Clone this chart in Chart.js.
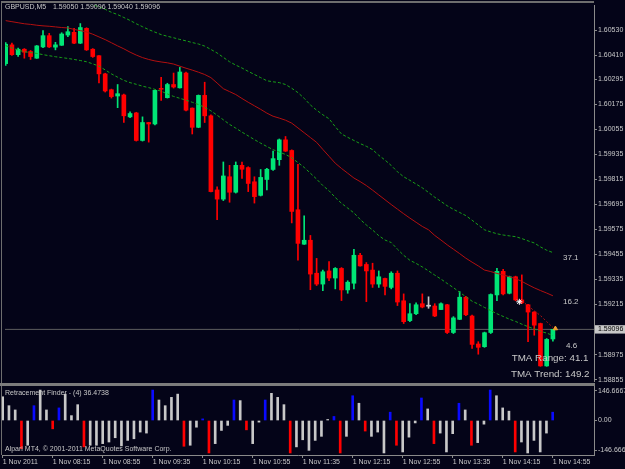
<!DOCTYPE html>
<html>
<head>
<meta charset="utf-8">
<script src="https://cdn.jsdelivr.net/npm/chart.js@4.4.0/dist/chart.umd.min.js"></script>
<style>
  html, body { margin: 0; padding: 0; background: #040418; }
  #wrap { position: relative; width: 625px; height: 469px; background: #040418; overflow: hidden; }
  #main { position: absolute; left: 0; top: 0; }
  #sub { position: absolute; left: 0; top: 386px; }
  #sep { position: absolute; left: 0; top: 383px; width: 595px; height: 3px; background: #7c7c7c; }
</style>
</head>
<body>
<div id="wrap">
  <canvas id="main" width="625" height="386"></canvas>
  <div id="sep"></div>
  <canvas id="sub" width="625" height="83"></canvas>
</div>
<script>
// ==================== DATA (GBPUSD M5, 1 Nov 2011, 07:35 -> 14:55) ====================

const opens = [1.60369, 1.60459, 1.60412, 1.60438, 1.60427, 1.60395, 1.60449, 1.60503, 1.60448, 1.60457,
  1.60506, 1.60519, 1.60467, 1.60538, 1.60438, 1.60407, 1.60320, 1.60244, 1.60214, 1.60219,
  1.60114, 1.60133, 1.60001, 1.60087, 1.60080, 1.60248, 1.60206, 1.60269, 1.60253, 1.60324,
  1.60156, 1.60064, 1.60217, 1.60119, 1.59764, 1.59720, 1.59827, 1.59753, 1.59882, 1.59871,
  1.59803, 1.59738, 1.59814, 1.59862, 1.59909, 1.60004, 1.59953, 1.59669, 1.59504, 1.59523,
  1.59365, 1.59313, 1.59376, 1.59342, 1.59388, 1.59285, 1.59317, 1.59451, 1.59407, 1.59380,
  1.59313, 1.59340, 1.59297, 1.59365, 1.59233, 1.59138, 1.59171, 1.59219, 1.59207, 1.59208,
  1.59191, 1.59214, 1.59081, 1.59144, 1.59250, 1.59160, 1.59026, 1.59013, 1.59081, 1.59261,
  1.59374, 1.59269, 1.59348, 1.59237, 1.59214, 1.59179, 1.59124, 1.58921, 1.59050];

const highs = [1.60470, 1.60467, 1.60443, 1.60441, 1.60432, 1.60456, 1.60527, 1.60514, 1.60471, 1.60517,
  1.60546, 1.60538, 1.60561, 1.60541, 1.60441, 1.60408, 1.60323, 1.60247, 1.60269, 1.60223,
  1.60138, 1.60136, 1.60114, 1.60088, 1.60242, 1.60304, 1.60275, 1.60324, 1.60351, 1.60328,
  1.60157, 1.60219, 1.60280, 1.60124, 1.59779, 1.59898, 1.59882, 1.59898, 1.59898, 1.59875,
  1.59827, 1.59862, 1.59868, 1.59950, 1.60008, 1.60020, 1.59956, 1.59887, 1.59640, 1.59546,
  1.59436, 1.59380, 1.59421, 1.59392, 1.59392, 1.59329, 1.59479, 1.59460, 1.59416, 1.59413,
  1.59376, 1.59342, 1.59372, 1.59376, 1.59266, 1.59219, 1.59223, 1.59266, 1.59252, 1.59219,
  1.59223, 1.59216, 1.59157, 1.59277, 1.59254, 1.59164, 1.59037, 1.59083, 1.59266, 1.59388,
  1.59384, 1.59351, 1.59351, 1.59357, 1.59216, 1.59181, 1.59126, 1.59052, 1.59096];

const lows = [1.60361, 1.60408, 1.60403, 1.60395, 1.60389, 1.60394, 1.60446, 1.60446, 1.60435, 1.60456,
  1.60498, 1.60465, 1.60465, 1.60432, 1.60399, 1.60277, 1.60233, 1.60204, 1.60158, 1.60087,
  1.60110, 1.59998, 1.59998, 1.59993, 1.60076, 1.60193, 1.60204, 1.60252, 1.60252, 1.60143,
  1.60032, 1.60062, 1.60087, 1.59754, 1.59621, 1.59713, 1.59705, 1.59749, 1.59819, 1.59756,
  1.59701, 1.59735, 1.59764, 1.59858, 1.59882, 1.59948, 1.59606, 1.59428, 1.59503, 1.59286,
  1.59306, 1.59282, 1.59329, 1.59290, 1.59234, 1.59269, 1.59290, 1.59399, 1.59229, 1.59297,
  1.59297, 1.59261, 1.59290, 1.59210, 1.59124, 1.59133, 1.59166, 1.59199, 1.59197, 1.59157,
  1.59190, 1.59076, 1.59076, 1.59143, 1.59162, 1.59005, 1.58977, 1.59010, 1.59076, 1.59234,
  1.59261, 1.59266, 1.59233, 1.59219, 1.59037, 1.59068, 1.58919, 1.58919, 1.59040];

const closes = [1.60462, 1.60412, 1.60438, 1.60424, 1.60403, 1.60454, 1.60503, 1.60449, 1.60459, 1.60511,
  1.60522, 1.60467, 1.60542, 1.60435, 1.60403, 1.60320, 1.60238, 1.60211, 1.60225, 1.60119,
  1.60130, 1.60001, 1.60087, 1.60080, 1.60241, 1.60246, 1.60269, 1.60257, 1.60329, 1.60146,
  1.60064, 1.60217, 1.60119, 1.59756, 1.59720, 1.59831, 1.59753, 1.59882, 1.59863, 1.59795,
  1.59732, 1.59824, 1.59863, 1.59914, 1.60004, 1.59950, 1.59661, 1.59508, 1.59523, 1.59361,
  1.59313, 1.59372, 1.59342, 1.59388, 1.59285, 1.59322, 1.59451, 1.59400, 1.59376, 1.59313,
  1.59348, 1.59302, 1.59365, 1.59227, 1.59133, 1.59171, 1.59214, 1.59203, 1.59207, 1.59160,
  1.59219, 1.59081, 1.59151, 1.59250, 1.59166, 1.59024, 1.59010, 1.59080, 1.59263, 1.59374,
  1.59266, 1.59348, 1.59237, 1.59223, 1.59179, 1.59116, 1.58921, 1.59048, 1.59096];

// TMA centre line and bands
const tmaMid = [1.60575, 1.60570, 1.60565, 1.60560, 1.60557, 1.60553, 1.60550, 1.60548, 1.60545, 1.60542,
  1.60540, 1.60533, 1.60527, 1.60521, 1.60510, 1.60497, 1.60484, 1.60469, 1.60454, 1.60440,
  1.60424, 1.60410, 1.60398, 1.60389, 1.60382, 1.60377, 1.60373, 1.60367, 1.60357, 1.60347,
  1.60338, 1.60328, 1.60317, 1.60302, 1.60276, 1.60249, 1.60235, 1.60221, 1.60202, 1.60184,
  1.60167, 1.60150, 1.60132, 1.60117, 1.60108, 1.60098, 1.60084, 1.60061, 1.60038, 1.60015,
  1.59992, 1.59958, 1.59925, 1.59892, 1.59867, 1.59844, 1.59821, 1.59804, 1.59785, 1.59763,
  1.59740, 1.59717, 1.59694, 1.59672, 1.59650, 1.59629, 1.59609, 1.59589, 1.59573, 1.59546,
  1.59524, 1.59501, 1.59480, 1.59459, 1.59437, 1.59418, 1.59400, 1.59380, 1.59373, 1.59364,
  1.59357, 1.59348, 1.59339, 1.59326, 1.59310, 1.59295, 1.59282, 1.59270, 1.59257];

const tmaUpper = [1.60702, 1.60700, 1.60695, 1.60690, 1.60686, 1.60681, 1.60677, 1.60674, 1.60670, 1.60667,
  1.60664, 1.60662, 1.60659, 1.60656, 1.60651, 1.60641, 1.60629, 1.60615, 1.60604, 1.60590,
  1.60576, 1.60560, 1.60546, 1.60532, 1.60520, 1.60508, 1.60500, 1.60493, 1.60485, 1.60478,
  1.60470, 1.60463, 1.60453, 1.60437, 1.60420, 1.60399, 1.60378, 1.60362, 1.60348, 1.60332,
  1.60317, 1.60302, 1.60287, 1.60282, 1.60278, 1.60269, 1.60251, 1.60230, 1.60203, 1.60171,
  1.60146, 1.60124, 1.60105, 1.60067, 1.60032, 1.60016, 1.60001, 1.59986, 1.59973, 1.59957,
  1.59930, 1.59907, 1.59881, 1.59851, 1.59827, 1.59810, 1.59792, 1.59774, 1.59752, 1.59729,
  1.59709, 1.59688, 1.59671, 1.59656, 1.59641, 1.59619, 1.59596, 1.59573, 1.59563, 1.59554,
  1.59548, 1.59544, 1.59540, 1.59531, 1.59520, 1.59510, 1.59491, 1.59475, 1.59464];

const tmaLower = [1.60455, 1.60444, 1.60434, 1.60426, 1.60422, 1.60418, 1.60412, 1.60407, 1.60402, 1.60398,
  1.60394, 1.60389, 1.60384, 1.60378, 1.60368, 1.60357, 1.60339, 1.60320, 1.60304, 1.60289,
  1.60278, 1.60270, 1.60261, 1.60254, 1.60246, 1.60237, 1.60224, 1.60212, 1.60203, 1.60194,
  1.60184, 1.60173, 1.60160, 1.60143, 1.60122, 1.60100, 1.60078, 1.60060, 1.60041, 1.60023,
  1.60005, 1.59988, 1.59972, 1.59957, 1.59945, 1.59934, 1.59918, 1.59895, 1.59872, 1.59844,
  1.59816, 1.59785, 1.59760, 1.59728, 1.59700, 1.59677, 1.59654, 1.59623, 1.59596, 1.59572,
  1.59545, 1.59524, 1.59512, 1.59480, 1.59451, 1.59427, 1.59412, 1.59395, 1.59376, 1.59356,
  1.59337, 1.59316, 1.59296, 1.59274, 1.59252, 1.59231, 1.59217, 1.59201, 1.59186, 1.59171,
  1.59158, 1.59145, 1.59134, 1.59121, 1.59109, 1.59098, 1.59087, 1.59078, 1.59067];

// last bars of the centre line (dotted, still repainting)
const tailStart = 83;
const tailValues = [1.59233, 1.59209, 1.59185, 1.59162, 1.59133, 1.59105];

// small chart objects (cursor star, price arrow)
const markerBars = [82.6, 88.4];
const markerPrices = [1.59228, 1.59100];

// Retracement Finder histogram: value and colour code (w = plain, b = blue, r = red)
const rfValues = [117, 73, 52, -139, -122, 73, 150, 52, -41, 62,
  130, 24, 78, -130, -122, -122, -114, -106, -85, -125,
  -98, -90, -57, -62, 150, 101, 73, 114, 130, -127,
  -122, -33, 8, -160, -114, -49, -24, 101, 98, -46,
  -114, -8, 101, 134, 114, 78, -160, -130, -95, -147,
  -98, -78, 5, 20, -160, -78, 122, 85, -52, -78,
  -57, -160, 41, -122, -155, -82, -12, 111, 57, -114,
  -62, -155, -65, 85, 52, -122, -109, -18, 150, 122,
  62, 46, -155, -106, -160, -98, -155, -62, 41];
const rfColors = ['w','w','w','r','w','b','w','w','r','b',
  'w','w','w','r','w','w','w','w','w','w',
  'w','w','w','w','b','w','w','w','w','r',
  'w','w','b','r','w','w','w','b','w','r',
  'w','w','b','w','w','w','r','w','w','w',
  'w','w','w','b','r','w','b','w','r','w',
  'w','w','b','r','w','w','w','b','w','r',
  'w','w','w','b','w','r','w','w','b','w',
  'w','w','r','w','w','w','w','w','b'];

// axes
const priceTicks = [1.60530, 1.60410, 1.60295, 1.60175, 1.60055, 1.59935, 1.59815, 1.59695,
  1.59575, 1.59455, 1.59335, 1.59215, 1.59096, 1.58975, 1.58855];
const currentPrice = 1.59096;
const rfTicks = [146.6667, 0, -146.6667];
const rfTickLabels = ['146.6667', '0.00', '-146.666'];
const timeTickBars = [0, 8, 16, 24, 32, 40, 48, 56, 64, 72, 80, 88];
const timeLabels = ['1 Nov 2011', '1 Nov 08:15', '1 Nov 08:55', '1 Nov 09:35', '1 Nov 10:15', '1 Nov 10:55',
  '1 Nov 11:35', '1 Nov 12:15', '1 Nov 12:55', '1 Nov 13:35', '1 Nov 14:15', '1 Nov 14:55'];

// texts
const titleSymbol = 'GBPUSD,M5';
const titlePrices = '1.59050 1.59096 1.59040 1.59096';
const bandLabels = ['37.1', '16.2', '4.6'];
const tmaInfo = ['TMA Range: 41.1', 'TMA Trend: 149.2'];
const rfTitle = 'Retracement Finder - (4) 36.4738';
const copyright = 'Alpari MT4, \u00a9 2001-2011 MetaQuotes Software Corp.';

// ==================== STYLE ====================

const UP = '#00e676';
const DOWN = '#ff0000';
const DOJI = '#c8c8c8';
const MID = '#b31010';
const BAND = '#18a018';
const AXIS = '#8a8a8a';
const TXT = '#c8c8c8';
const RF_COLORS = { w: '#c8c8c8', b: '#0a0aff', r: '#ff0000' };

const X_MIN = -0.112, X_MAX = 94.608;
const Y_MIN = 1.588487, Y_MAX = 1.606499;

Chart.defaults.font.family = "'Liberation Sans', Arial, sans-serif";
Chart.defaults.font.size = 7;
Chart.defaults.color = TXT;

const candleColor = i => closes[i] > opens[i] ? UP : (closes[i] < opens[i] ? DOWN : DOJI);
const barIdx = opens.map((_, i) => i);

// ==================== PLUGINS ====================

const mainDecor = {
  id: 'mainDecor',
  afterDraw(chart) {
    const c = chart.ctx;
    c.save();
    // frame
    c.fillStyle = '#6e6e6e';
    c.fillRect(1, 1, 593, 2);
    c.fillRect(1, 1, 1, 385);
    // texts
    c.fillStyle = TXT;
    c.textBaseline = 'middle';
    c.font = "7px 'Liberation Sans'";
    c.fillText(titleSymbol, 5, 7.5);
    c.fillText(titlePrices, 53, 7.5);
    c.font = "8px 'Liberation Sans'";
    c.fillText(bandLabels[0], 563, 258);
    c.fillText(bandLabels[1], 563, 302);
    c.fillText(bandLabels[2], 566, 346);
    c.font = "9.8px 'Liberation Sans'";
    c.textAlign = 'right';
    c.fillText(tmaInfo[0], 588.5, 358);
    c.fillText(tmaInfo[1], 589.5, 374);
    c.restore();
  }
};

const subDecor = {
  id: 'subDecor',
  afterDraw(chart) {
    const c = chart.ctx;
    c.save();
    c.fillStyle = '#6e6e6e';
    c.fillRect(1, 0, 1, 69);
    c.fillStyle = TXT;
    c.textBaseline = 'middle';
    c.font = "7px 'Liberation Sans'";
    c.fillText(rfTitle, 5, 7.5);
    c.fillText(copyright, 5, 63.5);
    c.restore();
  }
};

// ==================== MAIN PRICE CHART ====================

new Chart(document.getElementById('main'), {
  type: 'bar',
  data: {
    datasets: [
      {
        type: 'line', data: [{ x: X_MIN, y: currentPrice }, { x: X_MAX, y: currentPrice }],
        borderColor: '#5e5e5e', borderWidth: 1, pointRadius: 0, order: 6
      },
      {
        label: 'wick', data: lows.map((l, i) => ({ x: i, y: [l, highs[i]] })),
        backgroundColor: barIdx.map(candleColor), barThickness: 1, grouped: false, order: 5
      },
      {
        label: 'body', data: opens.map((o, i) => ({ x: i, y: [o, closes[i]] })),
        backgroundColor: barIdx.map(candleColor), barThickness: 4, grouped: false, minBarLength: 1, order: 4
      },
      {
        type: 'line', data: tmaUpper.map((v, i) => ({ x: i, y: v })),
        borderColor: BAND, borderWidth: 1, borderDash: [3, 2], pointRadius: 0, order: 2
      },
      {
        type: 'line', data: tmaLower.map((v, i) => ({ x: i, y: v })),
        borderColor: BAND, borderWidth: 1, borderDash: [3, 2], pointRadius: 0, order: 2
      },
      {
        type: 'line', data: tmaMid.map((v, i) => ({ x: i, y: v })),
        borderColor: MID, borderWidth: 1, pointRadius: 0, order: 1
      },
      {
        type: 'line', data: tailValues.map((v, i) => ({ x: tailStart + i, y: v })),
        borderColor: MID, borderWidth: 1, borderDash: [2, 2], pointRadius: 0, order: 1
      },
      {
        type: 'line', showLine: false, data: markerBars.map((b, i) => ({ x: b, y: markerPrices[i] })),
        pointStyle: ['star', 'triangle'], pointRadius: [3, 2.5],
        borderColor: ['#ffffff', '#f0a030'], backgroundColor: ['#ffffff', '#f0a030'], borderWidth: 1, order: 0
      }
    ]
  },
  options: {
    responsive: false,
    animation: false,
    devicePixelRatio: 1,
    layout: { padding: { left: 2, top: 3, right: 0, bottom: 3 } },
    plugins: { legend: { display: false }, tooltip: { enabled: false } },
    scales: {
      x: { type: 'linear', min: X_MIN, max: X_MAX, display: false, offset: false, grid: { offset: false } },
      y: {
        position: 'right', min: Y_MIN, max: Y_MAX,
        afterFit(s) { s.width = 31; s.paddingTop = 0; s.paddingBottom = 0; },
        afterBuildTicks(s) { s.ticks = priceTicks.map(v => ({ value: v })); },
        grid: { drawOnChartArea: false, tickLength: 3, color: AXIS },
        border: { color: AXIS },
        ticks: {
          autoSkip: false, padding: 1,
          callback: v => v.toFixed(5),
          color: ctx => ctx.tick && ctx.tick.value === currentPrice ? '#000000' : TXT,
          showLabelBackdrop: true,
          backdropColor: ctx => ctx.tick && ctx.tick.value === currentPrice ? '#c8c8c8' : 'rgba(0,0,0,0)',
          backdropPadding: { top: 0, bottom: 0, left: 3, right: 3 }
        }
      }
    }
  },
  plugins: [mainDecor]
});

// ==================== RETRACEMENT FINDER PANEL ====================

new Chart(document.getElementById('sub'), {
  type: 'bar',
  data: {
    datasets: [{
      data: rfValues.map((v, i) => ({ x: i, y: v })),
      backgroundColor: rfColors.map(c => RF_COLORS[c]),
      barThickness: 2, grouped: false
    }]
  },
  options: {
    responsive: false,
    animation: false,
    devicePixelRatio: 1,
    layout: { padding: { left: 2, top: 0, right: 0, bottom: 0 } },
    plugins: { legend: { display: false }, tooltip: { enabled: false } },
    scales: {
      x: {
        type: 'linear', min: X_MIN, max: X_MAX, offset: false,
        afterFit(s) { s.height = 14; s.paddingLeft = 0; s.paddingRight = 0; },
        afterBuildTicks(s) { s.ticks = timeTickBars.map(v => ({ value: v })); },
        grid: { drawOnChartArea: false, tickLength: 3, color: AXIS, offset: false },
        border: { color: AXIS },
        ticks: { autoSkip: false, maxRotation: 0, minRotation: 0, align: 'start', padding: 0,
          callback: (v, idx) => timeLabels[idx] }
      },
      y: {
        position: 'right', min: -170, max: 170,
        afterFit(s) { s.width = 31; s.paddingTop = 0; s.paddingBottom = 0; },
        afterBuildTicks(s) { s.ticks = rfTicks.map(v => ({ value: v })); },
        grid: { drawOnChartArea: false, tickLength: 3, color: AXIS },
        border: { color: AXIS },
        ticks: { autoSkip: false, padding: 1, callback: (v, idx) => rfTickLabels[idx] }
      }
    }
  },
  plugins: [subDecor]
});
</script>
</body>
</html>
